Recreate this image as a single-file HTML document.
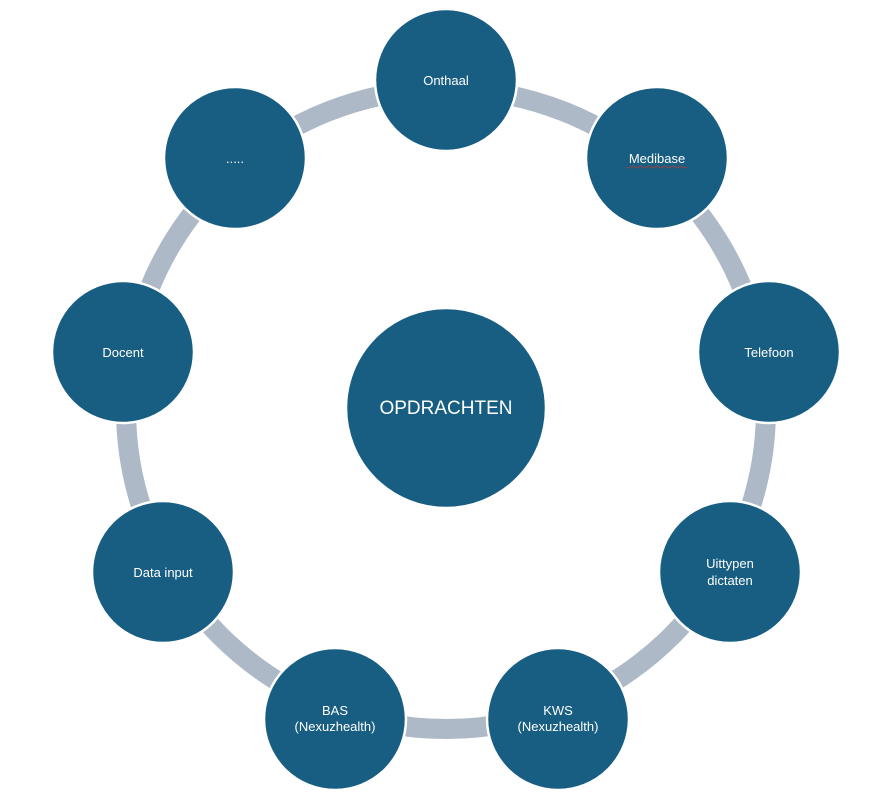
<!DOCTYPE html>
<html><head><style>body{margin:0;background:#fff}svg text{font-family:"Liberation Sans",sans-serif;fill:#fff}</style></head>
<body>
<svg width="877" height="802" viewBox="0 0 877 802">
<circle cx="446" cy="409" r="320" fill="none" stroke="#adb9c6" stroke-width="20"/>
<g fill="#175e82" stroke="#fff" stroke-width="2.5">
<circle cx="446" cy="408" r="100"/>
<circle cx="446" cy="80" r="71"/>
<circle cx="657" cy="158" r="71"/>
<circle cx="769" cy="352" r="71"/>
<circle cx="730" cy="572" r="71"/>
<circle cx="558" cy="719" r="71"/>
<circle cx="335" cy="719" r="71"/>
<circle cx="163" cy="572" r="71"/>
<circle cx="123" cy="352" r="71"/>
<circle cx="235" cy="158" r="71"/>
</g>
<g font-size="13" text-anchor="middle">
<text x="446" y="414" font-size="19">OPDRACHTEN</text>
<text x="446" y="85">Onthaal</text>
<text x="657" y="163">Medibase</text>
<path d="M627 167 q2 2 4 0 t4 0 t4 0 t4 0 t4 0 t4 0 t4 0 t4 0 t4 0 t4 0 t4 0 t4 0 t4 0 t4 0 t4 0" stroke="#c0392b" fill="none" stroke-width="0.8"/>
<text x="769" y="357">Telefoon</text>
<text x="730" y="568">Uittypen</text>
<text x="730" y="585">dictaten</text>
<text x="558" y="715">KWS</text>
<text x="558" y="731">(Nexuzhealth)</text>
<text x="335" y="715">BAS</text>
<text x="335" y="731">(Nexuzhealth)</text>
<text x="163" y="577">Data input</text>
<text x="123" y="357">Docent</text>
<text x="235" y="163">.....</text>
</g>
</svg>
</body></html>
